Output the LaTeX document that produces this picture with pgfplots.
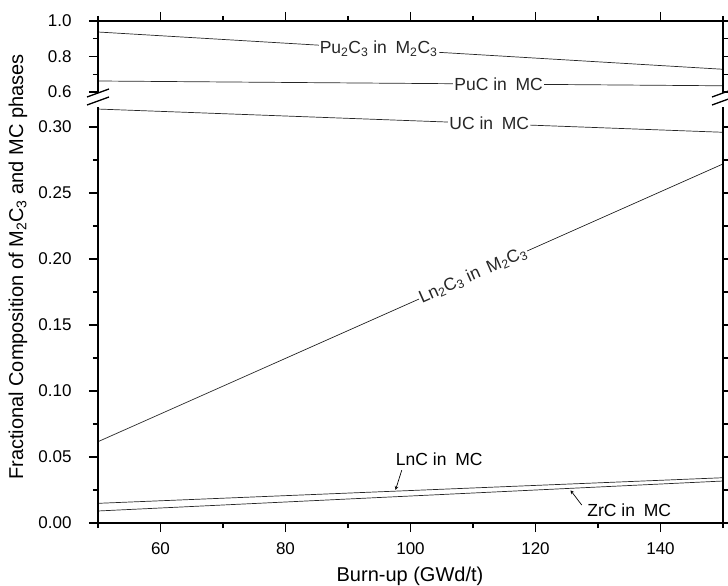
\documentclass[border=0pt]{standalone}
\usepackage{fontspec}
\setmainfont{Liberation Sans}
\usepackage{pgfplots}
\pgfplotsset{compat=1.18}
\tikzset{
  lbl/.style={fill=white, inner sep=1.2pt, font=\fontsize{17.5bp}{21bp}\selectfont},
  dl/.style={black!85, line width=0.7bp, mark=none},
}
\begin{document}
\begin{tikzpicture}[font=\fontsize{17bp}{20bp}\selectfont]
\pgfplotsset{
  brk/.style={
    scale only axis, width=625bp, xmin=50, xmax=150,
    axis line style={draw=none},
    tick align=outside, major tick length=9bp, minor tick length=5bp,
    tick style={black, line width=1.2bp},
    xtick={60,80,...,140}, minor xtick={50,70,...,150},
    minor y tick num=1,
    /pgf/number format/assume math mode=true,
    clip mode=individual,
    xticklabel style={yshift=-7bp},
  }
}
\path[use as bounding box] (-98bp,-63bp) rectangle (630bp,523bp);

% lower part, 0 -- 0.315
\begin{axis}[brk, at={(0,0)}, anchor=south west,
    height=415.8bp, ymin=0, ymax=0.315,
    ytick={0,0.05,...,0.30},
    xtick pos=left,
    yticklabel style={xshift=-14bp, /pgf/number format/.cd, fixed, fixed zerofill, precision=2},
  ]
  \addplot[dl] coordinates {(50,0.0616) (150,0.272)}
    node[pos=0.6, sloped, lbl] {Ln\textsubscript{2}C\textsubscript{3} in\enspace M\textsubscript{2}C\textsubscript{3}};
  \addplot[dl] coordinates {(50,0.3136) (150,0.296)}
    node[pos=0.626, lbl] {UC in\enspace MC};
  \addplot[dl] coordinates {(50,0.0149) (150,0.0343)};
  \addplot[dl] coordinates {(50,0.0091) (150,0.0318)};

  \node[font=\fontsize{17.5bp}{21bp}\selectfont] at (axis cs:104.6,0.0485) {LnC in\enspace MC};
  \draw[-stealth, line width=0.7bp] (axis cs:98.6,0.0400) -- (axis cs:97.6,0.0250);
  \node[font=\fontsize{17.5bp}{21bp}\selectfont] at (axis cs:135.0,0.0100) {ZrC in\enspace MC};
  \draw[-stealth, line width=0.7bp] (axis cs:127.4,0.0136) -- (axis cs:125.6,0.0248);

  \draw[line width=1.5bp] (rel axis cs:0,1) -- (rel axis cs:0,0)
    -- (rel axis cs:1,0) -- (rel axis cs:1,1);
\end{axis}

% upper part, 0.594 -- 1.0
\begin{axis}[brk, at={(0,430bp)}, anchor=south west,
    height=72bp, ymin=0.5944, ymax=1.0,
    ytick={0.6,0.8,1.0},
    xtick pos=right, xticklabels={},
    yticklabel style={xshift=-14bp, /pgf/number format/.cd, fixed, fixed zerofill, precision=1},
  ]
  \addplot[dl] coordinates {(50,0.938) (150,0.728)}
    node[pos=0.449, lbl] {Pu\textsubscript{2}C\textsubscript{3} in\enspace M\textsubscript{2}C\textsubscript{3}};
  \addplot[dl] coordinates {(50,0.662) (150,0.635)}
    node[pos=0.641, lbl] {PuC in\enspace MC};

  \draw[line width=1.5bp] (rel axis cs:0,0) -- (rel axis cs:0,1)
    -- (rel axis cs:1,1) -- (rel axis cs:1,0);
\end{axis}

% axis break marks
\foreach \xb in {0bp,625bp}{
  \draw[line width=1.3bp] ([xshift=\xb]-11bp,418bp) -- ([xshift=\xb]11bp,426bp);
  \draw[line width=1.3bp] ([xshift=\xb]-11bp,426bp) -- ([xshift=\xb]11bp,434bp);
}

\node[rotate=90, font=\fontsize{20bp}{24bp}\selectfont] at (-80bp,256bp) {Fractional Composition of M\textsubscript{2}C\textsubscript{3} and MC phases};
\node[font=\fontsize{20bp}{24bp}\selectfont] at (312bp,-53bp) {Burn-up (GWd/t)};
\end{tikzpicture}
\end{document}
